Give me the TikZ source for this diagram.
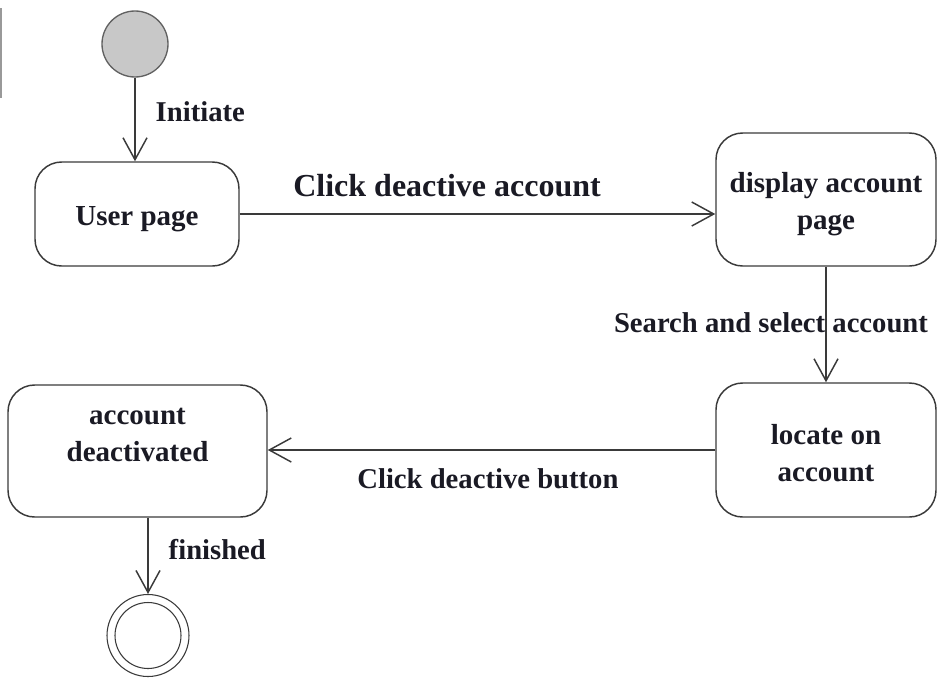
\documentclass[tikz,border=0pt]{standalone}
\usepackage{fontspec}
\setmainfont{Liberation Serif}[BoldFont={Liberation Serif Bold}]
\usetikzlibrary{arrows.meta}
\definecolor{linec}{HTML}{3A3A3A}
\definecolor{startfill}{HTML}{C8C8C8}
\definecolor{txtc}{HTML}{1A1A24}
\tikzset{
  statebox/.style={draw=linec, line width=1.1pt, rounded corners=20pt, inner sep=0pt},
  txt/.style={inner sep=0pt, align=center, font=\fontsize{21.75}{27.75}\selectfont\bfseries, text=txtc},
  lbl/.style={inner sep=0pt, font=\fontsize{21.5}{26}\selectfont\bfseries, text=txtc},
  arr/.style={draw=linec, line width=1.1pt, -{Straight Barb[length=16.5pt, width=18pt, line width=1.1pt]}},
}
\begin{document}
\begin{tikzpicture}[x=0.75pt,y=-0.75pt]
\useasboundingbox (0,0) rectangle (938,686);
% left edge stroke
\draw[color=gray!80, line width=1.1pt] (1,8) -- (1,98);
% start
\node[circle, draw=linec!80, fill=startfill, line width=1pt, minimum size=49.5pt, inner sep=0pt] (start) at (135,44) {};
% states
\node[statebox, minimum width=153pt, minimum height=78pt,
  label={[txt, yshift=-3.75pt]center:User page}] (userpage) at (137,214) {};
\node[statebox, minimum width=165pt, minimum height=99.75pt,
  label={[txt, yshift=-3.75pt]center:display account\\page}] (display) at (826,199.5) {};
\node[statebox, minimum width=165pt, minimum height=100.5pt,
  label={[txt, yshift=-2.25pt]center:locate on\\account}] (locate) at (826,450) {};
\node[statebox, minimum width=194.25pt, minimum height=99pt,
  label={[txt, yshift=12pt]center:account\\deactivated}] (deact) at (137.5,451) {};
% end
\node[circle, draw=linec, line width=0.8pt, minimum size=61.5pt, inner sep=0pt] (end) at (148,635.5) {};
\draw[linec, line width=0.8pt] (end.center) circle[radius=24.75pt];
% transitions
\draw[arr] (start) -- (start |- userpage.north)
  node[lbl, pos=0.41, anchor=west, xshift=15pt] {Initiate};
\draw[arr] (userpage.east) -- (userpage.east -| display.west)
  node[lbl, pos=0.436, anchor=south, yshift=12pt, font=\fontsize{24}{28}\selectfont\bfseries] {Click deactive account};
\draw[arr] (display.south) -- (locate.north)
  node[lbl, pos=0.487, xshift=-41.25pt] {Search and select account};
\draw[arr] (locate.west) -- (locate.west -| deact.east)
  node[lbl, pos=0.508, anchor=north, yshift=-13.25pt] {Click deactive button};
\draw[arr] (end |- deact.south) -- (end.north)
  node[lbl, pos=0.423, anchor=west, xshift=15pt] {finished};
\end{tikzpicture}
\end{document}
